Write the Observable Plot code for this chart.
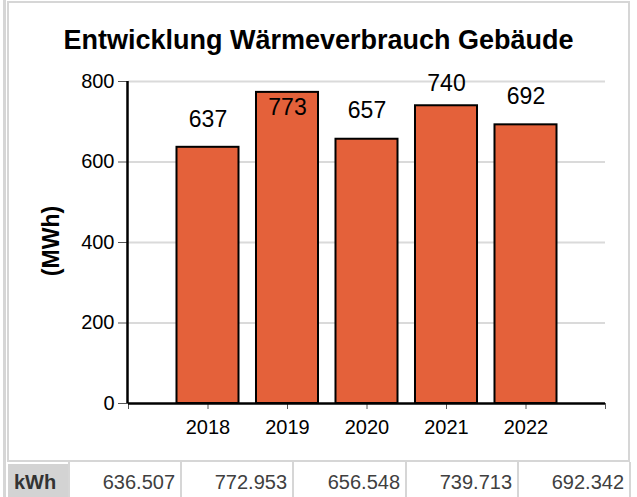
<!DOCTYPE html>
<html>
<head>
<meta charset="utf-8">
<script src="https://cdn.jsdelivr.net/npm/d3@7"></script>
<script src="https://cdn.jsdelivr.net/npm/@observablehq/plot@0.6"></script>
<style>
  html, body { margin: 0; padding: 0; background: #fff; }
  #wrap { position: relative; width: 637px; height: 497px; overflow: hidden; background: #fff; font-family: "Liberation Sans", Arial, sans-serif; }
  .abs { position: absolute; }
  #title { left: 7px; width: 623px; top: 25px; line-height: 30px; text-align: center; font-weight: bold; font-size: 27px; color: #000; }
  #ylabel { font-weight: bold; font-size: 23px; color: #000; transform: translate(-50%, -50%) rotate(-90deg); white-space: nowrap; line-height: 26px; }
  .cell { position: absolute; top: 464px; height: 36px; line-height: 36px; font-size: 20px; color: #404040; text-align: right; box-sizing: border-box; padding-right: 6px; }
  .vline { position: absolute; top: 462px; height: 40px; width: 2px; background: #d6d6d6; }
</style>
</head>
<body>
<div id="wrap">
  <div class="abs" style="left:3px;top:0;width:3px;height:497px;background:#d6d6d6"></div>
  <div class="abs" style="left:7px;top:1px;width:619px;height:457px;border:2px solid #d6d6d6"></div>
  <div id="chart" class="abs" style="left:0;top:0"></div>
  <div id="title" class="abs">Entwicklung Wärmeverbrauch Gebäude</div>
  <div id="ylabel" class="abs" style="left:51px;top:241px">(MWh)</div>
  <div id="table"></div>
</div>
<script>
// ---- data ----
const years = [2018, 2019, 2020, 2021, 2022];
const kwh = [636507, 772953, 656548, 739713, 692342];
const unitLabel = "kWh";
const yTicks = [0, 200, 400, 600, 800];
const xTicks = [2017, 2018, 2019, 2020, 2021, 2022, 2023];

const data = years.map((year, i) => ({ year, kwh: kwh[i], mwh: kwh[i] / 1000 }));

// label placement (outside end, clamped; inside if too tall)
const labelY = v => v + 70 <= 795 ? v + 70 : (v + 70 <= 820 ? 795 : v - 37);

const chart = Plot.plot({
  width: 637,
  height: 460,
  marginLeft: 128,
  marginRight: 32,
  marginTop: 81,
  marginBottom: 57,
  x: { type: "linear", domain: [2017, 2023] },
  y: { domain: [0, 800] },
  style: { fontFamily: "Liberation Sans, Arial, sans-serif", fontSize: "20px", background: "transparent", color: "#000", overflow: "visible" },
  marks: [
    Plot.gridY(yTicks.filter(d => d > 0), { stroke: "#dadada", strokeWidth: 2, strokeOpacity: 1 }),
    Plot.rectY(data, {
      x1: d => d.year - 0.39,
      x2: d => d.year + 0.39,
      y: "mwh",
      fill: "#e4613a",
      stroke: "#000",
      strokeWidth: 2
    }),
    Plot.axisY({ ticks: yTicks, tickSize: 10, tickPadding: 4, stroke: "#555", label: null, fill: "#000" }),
    Plot.ruleX([2017], { stroke: "#000", strokeWidth: 2.5, dx: -1 }),
    Plot.axisX({
      ticks: xTicks,
      tickSize: 6,
      tickPadding: 10,
      stroke: "#555",
      label: null,
      tickFormat: d => years.includes(d) ? String(d) : ""
    }),
    Plot.ruleY([0], { stroke: "#000", strokeWidth: 2.5 }),
    Plot.text(data, {
      x: "year",
      y: d => labelY(d.mwh),
      text: d => String(Math.round(d.mwh)),
      fill: "#000"
    })
  ]
});
document.getElementById("chart").appendChild(chart);
// enforce font sizes: axis tick labels 20px, bar value labels 23px
d3.select(chart).selectAll("text").style("font-size", "20px");
const groups = chart.querySelectorAll(":scope > g");
d3.select(groups[groups.length - 1]).selectAll("text").style("font-size", "23px");

// ---- value table ----
const table = document.getElementById("table");
const fmt = v => String(v).replace(/\B(?=(\d{3})+(?!\d))/g, ".");
const edges = [69, 181, 293, 406, 518, 630];
const head = document.createElement("div");
head.className = "cell";
head.style.left = "8px";
head.style.width = "61px";
head.style.background = "#d3d3d3";
head.style.textAlign = "left";
head.style.paddingLeft = "6px";
head.style.fontWeight = "bold";
head.style.color = "#333";
head.textContent = unitLabel;
table.appendChild(head);
[5, ...edges].forEach(x => {
  const l = document.createElement("div");
  l.className = "vline";
  l.style.left = (x - 1) + "px";
  table.appendChild(l);
});
kwh.forEach((v, i) => {
  const c = document.createElement("div");
  c.className = "cell";
  c.style.left = edges[i] + 1 + "px";
  c.style.width = (edges[i + 1] - edges[i] - 1) + "px";
  c.textContent = fmt(v);
  table.appendChild(c);
});
</script>
</body>
</html>
